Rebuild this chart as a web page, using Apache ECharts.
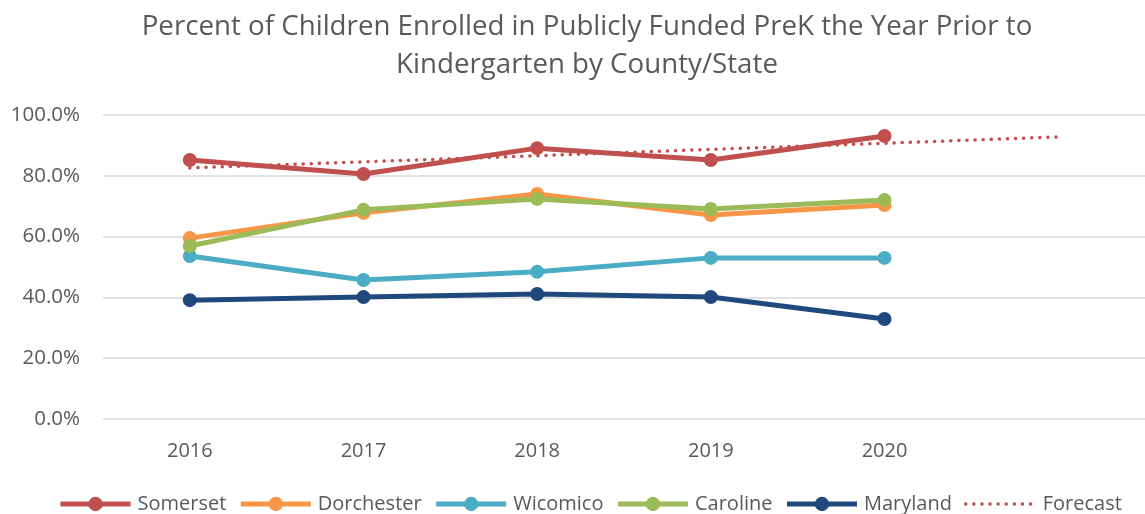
<!DOCTYPE html>
<html>
<head>
<meta charset="utf-8">
<script src="https://cdn.jsdelivr.net/npm/echarts@6/dist/echarts.min.js"></script>
<style>
  html, body { margin: 0; padding: 0; background: #fff; }
  #chart { width: 1145px; height: 514px; }
</style>
</head>
<body>
<div id="chart"></div>
<script>
// years on the x axis (last slot holds only the forecast point)
var years = ['2016', '2017', '2018', '2019', '2020', ''];

var somerset   = [85.2, 80.6, 89.1, 85.2, 93.1];
var dorchester = [59.5, 67.8, 74.0, 67.1, 70.4];
var wicomico   = [53.6, 45.7, 48.4, 53.0, 53.0];
var caroline   = [56.9, 68.8, 72.4, 69.1, 72.0];
var maryland   = [39.1, 40.1, 41.1, 40.1, 32.9];
// linear trend of Somerset, one period forward
var forecast   = [82.6, 84.6, 86.6, 88.7, 90.7, 92.8];

var yTicks = [0, 20, 40, 60, 80, 100];

var font = 'Open Sans';
var grey = '#595959';

function lineSeries(name, data, color) {
  return {
    name: name,
    type: 'line',
    data: data,
    symbol: 'circle',
    symbolSize: 14,
    lineStyle: { width: 5, color: color },
    itemStyle: { color: color },
    z: 3
  };
}

var names = ['Somerset', 'Dorchester', 'Wicomico', 'Caroline', 'Maryland'];
var legendData = names.map(function (n) {
  return { name: n, lineStyle: { width: 5 } };
});
legendData.push({
  name: 'Forecast',
  lineStyle: { width: 3.5 },
  itemStyle: { color: 'rgba(0,0,0,0)', borderWidth: 0 }
});

var option = {
  animation: false,
  title: {
    text: 'Percent of Children Enrolled in Publicly Funded PreK the Year Prior to\nKindergarten by County/State',
    left: 582,
    textAlign: 'center',
    top: 3,
    textStyle: {
      fontFamily: font,
      fontWeight: 'normal',
      fontSize: 27.7,
      lineHeight: 38,
      color: grey
    }
  },
  legend: {
    top: 489,
    left: 53,
    itemWidth: 70,
    itemHeight: 18,
    itemGap: 12,
    textStyle: { fontFamily: font, fontSize: 20, color: grey, padding: [0, 0, 0, 2] },
    data: legendData
  },
  grid: {
    left: 103,
    top: 115,
    bottom: 95,
    width: 1049,
    containLabel: false
  },
  xAxis: {
    type: 'category',
    data: years,
    boundaryGap: true,
    axisLine: { show: false },
    axisTick: { show: false },
    axisLabel: { fontFamily: font, fontSize: 20, color: grey, margin: 22 }
  },
  yAxis: {
    type: 'value',
    min: yTicks[0],
    max: yTicks[yTicks.length - 1],
    interval: 20,
    axisLine: { show: false },
    axisTick: { show: false },
    splitLine: { lineStyle: { color: '#d9d9d9', width: 1.5 } },
    axisLabel: {
      fontFamily: font, fontSize: 20.5, color: grey, margin: 23,
      formatter: function (v) { return v.toFixed(1) + '%'; }
    }
  },
  series: [
    {
      name: 'Forecast',
      type: 'line',
      data: forecast,
      symbol: 'none',
      lineStyle: { width: 3.5, color: '#C0504D', type: [0.1, 8], cap: 'round' },
      itemStyle: { color: '#C0504D' },
      z: 2
    },
    lineSeries('Somerset', somerset, '#C0504D'),
    lineSeries('Dorchester', dorchester, '#F79646'),
    lineSeries('Wicomico', wicomico, '#4BACC6'),
    lineSeries('Caroline', caroline, '#9BBB59'),
    lineSeries('Maryland', maryland, '#1F497D')
  ]
};

var myChart = echarts.init(document.getElementById('chart'));
myChart.setOption(option);
</script>
</body>
</html>
